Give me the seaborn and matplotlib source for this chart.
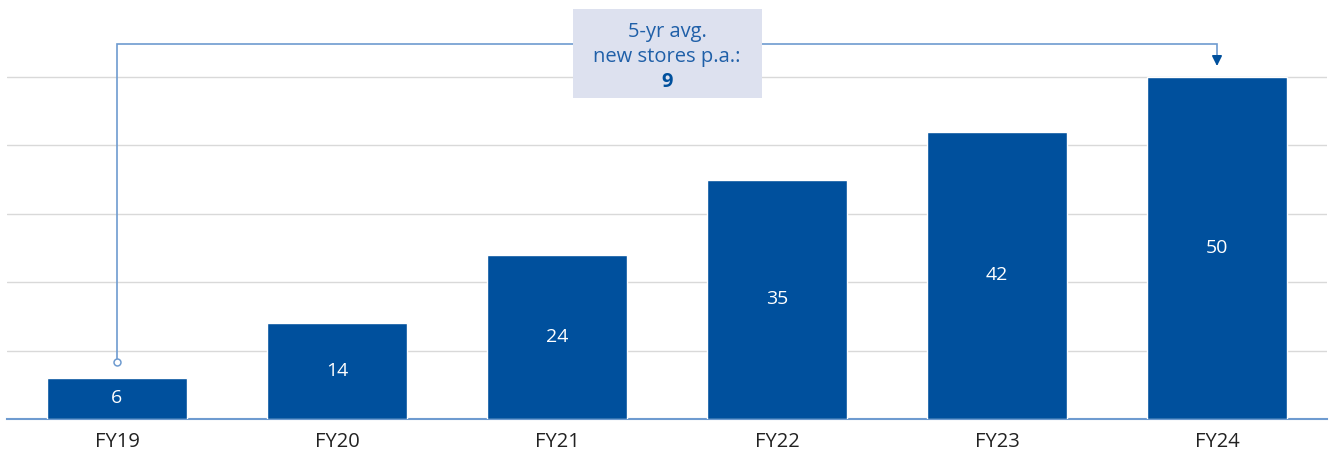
import matplotlib
matplotlib.use("Agg")
import matplotlib.pyplot as plt
from matplotlib.patches import Rectangle
import seaborn as sns
import pandas as pd

years = ["FY19", "FY20", "FY21", "FY22", "FY23", "FY24"]
stores = [6, 14, 24, 35, 42, 50]
avg_label = ["5-yr avg.", "new stores p.a.:", "9"]

BAR = "#00509d"
LINK = "#6e9bd0"
GRID = "#d9d9d9"
TXT = "#1f5fa8"
BOX = "#dde1ef"

sns.set_theme(style="white")
plt.rcParams["font.family"] = ["Open Sans", "DejaVu Sans"]

df = pd.DataFrame({"year": years, "stores": stores})

fig = plt.figure(figsize=(13.32, 4.5), dpi=100)
ax = fig.add_axes([7 / 1332, 31 / 450, 1320 / 1332, 419 / 450])

sns.barplot(data=df, x="year", y="stores", color=BAR, saturation=1,
            width=0.636, ax=ax, zorder=3)

ax.set_xlim(-0.5, 5.5)
ax.set_ylim(0, 61.26)
ax.set_yticks([10, 20, 30, 40, 50])
ax.yaxis.grid(True, color=GRID, linewidth=1)
ax.set_axisbelow(True)
ax.tick_params(axis="y", left=False, labelleft=False)
ax.tick_params(axis="x", bottom=False, labelsize=14.5, colors="#222222", pad=3.5)
ax.set_xlabel("")
ax.set_ylabel("")
for s in ["top", "left", "right"]:
    ax.spines[s].set_visible(False)
ax.spines["bottom"].set_color(LINK)
ax.spines["bottom"].set_linewidth(1.5)

for c in ax.containers:
    ax.bar_label(c, labels=[str(v) for v in stores], label_type="center",
                 color="white", fontsize=14)

# connector from the first year to the last
x0, x1 = 0, len(years) - 1
y_top = 54.8
ax.plot([x0, x0, x1, x1], [8.3, y_top, y_top, 53.0], color=LINK,
        linewidth=1.2, zorder=4, solid_joinstyle="miter")
ax.plot([x0], [8.3], marker="o", markersize=5, markerfacecolor="white",
        markeredgecolor=LINK, markeredgewidth=1.1, zorder=5)
ax.annotate("", xy=(x1, 51.2), xytext=(x1, 53.5),
            arrowprops=dict(arrowstyle="-|>,head_length=0.5,head_width=0.25",
                            color=BAR, linewidth=1.2), zorder=5)

# average box
bx, bw = 2.5, 189 / 220
ax.add_patch(Rectangle((bx - bw / 2, 47.0), bw, 13.0, facecolor=BOX,
                       edgecolor="none", zorder=6, clip_on=False))
ax.text(bx, 56.6, avg_label[0], ha="center", va="center", color=TXT,
        fontsize=14.5, zorder=7)
ax.text(bx, 52.9, avg_label[1], ha="center", va="center", color=TXT,
        fontsize=14.5, zorder=7)
ax.text(bx, 49.2, avg_label[2], ha="center", va="center", color=BAR,
        fontsize=14.5, fontweight="bold", zorder=7)

fig.savefig("out.png", dpi=100)
